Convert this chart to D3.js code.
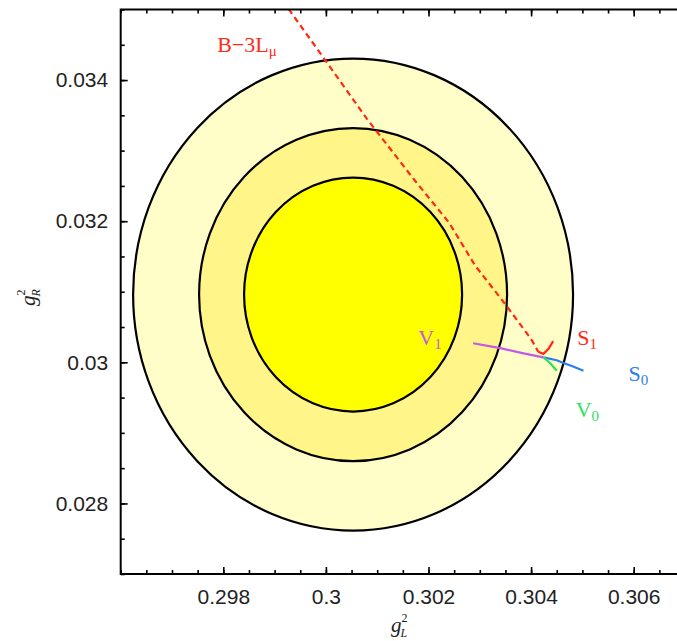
<!DOCTYPE html>
<html>
<head>
<meta charset="utf-8">
<script src="https://cdn.jsdelivr.net/npm/d3@7"></script>
<style>
  body { margin: 0; background: #fff; }
  .tick-label { font-family: "Liberation Sans", Arial, sans-serif; font-size: 21px; fill: #222; }
  .curve-label { font-family: "Liberation Serif", "Times New Roman", serif; font-size: 22px; }
</style>
</head>
<body>
<div id="chart"></div>
<script>
// axis ranges and tick labels
let xDomain = [0.296, 0.308]
let yDomain = [0.027, 0.035]
let xTickLabels = [0.298, 0.3, 0.302, 0.304, 0.306]
let yTickLabels = [0.028, 0.03, 0.032, 0.034]

// centre of the fit and the semi axes of the three contours (outer to inner)
let fitCentre = [0.30053, 0.03096]
let contourRx = [0.004288, 0.003002, 0.002125]
let contourRy = [0.003345, 0.00236, 0.001658]
let contourFill = ["#fffdc8", "#fff588", "#ffff00"]

// model curves, [gL2, gR2] pairs
let curveB3L = [[0.29905, 0.03524], [0.29929, 0.03499], [0.29992, 0.03435], [0.30080, 0.03345],
    [0.30173, 0.03258], [0.30240, 0.03198], [0.30291, 0.03137], [0.30350, 0.03082],
    [0.30400, 0.03033], [0.30414, 0.03015]]
let curveS1 = [[0.30414, 0.03015], [0.30424, 0.03012], [0.30434, 0.03019], [0.30443, 0.03030]]
let curveV1 = [[0.30287, 0.03027], [0.30340, 0.03020], [0.30390, 0.03012], [0.30424, 0.03007]]
let curveS0 = [[0.30424, 0.03007], [0.30450, 0.03003], [0.30463, 0.02999], [0.30482, 0.02994], [0.30502, 0.02988]]
let curveV0 = [[0.30424, 0.03007], [0.30437, 0.02999], [0.30450, 0.02988]]

// set the dimensions of the svg and the plot frame
let width = 677, height = 641
let plot = {left: 120.7, top: 9.5, bottom: 574, right: 736.3}

let svg = d3.select("#chart")
    .append("svg")
    .attr("width", width)
    .attr("height", height)

// scales
let x = d3.scaleLinear().domain(xDomain).range([plot.left, plot.right])
let y = d3.scaleLinear().domain(yDomain).range([plot.bottom, plot.top])

// clip everything to the plot frame
svg.append("clipPath")
    .attr("id", "plot-clip")
    .append("rect")
    .attr("x", plot.left)
    .attr("y", plot.top)
    .attr("width", plot.right - plot.left)
    .attr("height", plot.bottom - plot.top)

let inner = svg.append("g").attr("clip-path", "url(#plot-clip)")

// draw the contours, outer one first
inner.selectAll(".contour")
    .data(contourRx)
    .enter()
    .append("ellipse")
    .classed("contour", true)
    .attr("cx", x(fitCentre[0]))
    .attr("cy", y(fitCentre[1]))
    .attr("rx", function(d) {return x(fitCentre[0] + d) - x(fitCentre[0])})
    .attr("ry", function(d, i) {return y(fitCentre[1]) - y(fitCentre[1] + contourRy[i])})
    .style("fill", function(d, i) {return contourFill[i]})
    .style("stroke", "#000")
    .style("stroke-width", 2.2)

let line = d3.line()
    .x(function(d) {return x(d[0])})
    .y(function(d) {return y(d[1])})

// the B-3L line is dashed, the rest are solid
inner.append("path")
    .attr("d", line(curveB3L))
    .style("fill", "none")
    .style("stroke", "#ff2a14")
    .style("stroke-width", 2.2)
    .style("stroke-dasharray", "6,4")

let solidCurves = [[curveV1, "#c458e8"], [curveS0, "#2d7ef0"], [curveV0, "#2ee060"], [curveS1, "#ff2a14"]]
solidCurves.forEach(function(c) {
    inner.append("path")
        .attr("d", line(c[0]))
        .style("fill", "none")
        .style("stroke", c[1])
        .style("stroke-width", 2.2)
})

// ticks: minor every 0.0005, major at the labelled values
let xMinor = d3.range(0, 25).map(function(i) {return +(xDomain[0] + i * 0.0005).toFixed(4)})
let yMinor = d3.range(0, 17).map(function(i) {return +(yDomain[0] + i * 0.0005).toFixed(4)})

function addAxis(axisFn, scale, pos, minor, major, labels) {
    let g = svg.append("g").attr("transform", pos)
    g.append("g").call(axisFn(scale).tickValues(minor).tickSize(-4).tickFormat(""))
    let m = g.append("g").call(axisFn(scale).tickValues(major).tickSize(-7).tickPadding(labels ? 15 : 0)
        .tickFormat(labels ? function(d) {return d3.format("")(d)} : ""))
    g.selectAll("path.domain").remove()
    g.selectAll("line").style("stroke", "#000").style("stroke-width", 1.6)
    m.selectAll("text").attr("class", "tick-label").attr("font-size", null).attr("font-family", null)
    return m
}

addAxis(d3.axisBottom, x, "translate(0," + plot.bottom + ")", xMinor, xTickLabels, true)
addAxis(d3.axisTop, x, "translate(0," + plot.top + ")", xMinor, xTickLabels, false)
let yAx = addAxis(d3.axisLeft, y, "translate(" + plot.left + ",0)", yMinor, yTickLabels, true)
yAx.selectAll("text").attr("x", -12.5)

// plot frame (right edge falls outside the picture)
svg.append("rect")
    .attr("x", plot.left)
    .attr("y", plot.top)
    .attr("width", plot.right - plot.left)
    .attr("height", plot.bottom - plot.top)
    .style("fill", "none")
    .style("stroke", "#000")
    .style("stroke-width", 2)

// curve labels
let labels = [
    {t: "B\u22123L", s: "\u03bc", gx: 0.29788, gy: 0.03440, c: "#ff2a14"},
    {t: "V", s: "1", gx: 0.30180, gy: 0.03024, c: "#c458e8"},
    {t: "S", s: "1", gx: 0.30490, gy: 0.03024, c: "#ff2a14"},
    {t: "S", s: "0", gx: 0.30590, gy: 0.02973, c: "#2d7ef0"},
    {t: "V", s: "0", gx: 0.30487, gy: 0.02923, c: "#2ee060"}
]
labels.forEach(function(l) {
    let t = svg.append("text")
        .attr("class", "curve-label")
        .attr("x", x(l.gx))
        .attr("y", y(l.gy))
        .style("fill", l.c)
    t.append("tspan").text(l.t)
    t.append("tspan").attr("dy", 4).style("font-size", "15px").text(l.s)
})

// axis titles g_L^2 and g_R^2
function axisTitle(g, sub) {
    let t = g.append("text")
        .style("font-family", "'Liberation Serif', 'Times New Roman', serif")
        .style("font-size", "21px")
        .style("fill", "#222")
    t.append("tspan").style("font-style", "italic").text("g")
    t.append("tspan").attr("dy", -10).style("font-size", "12px").text("2")
    t.append("tspan").attr("dx", -7).attr("dy", 15).style("font-size", "12px").style("font-style", "italic").text(sub)
}
axisTitle(svg.append("g").attr("transform", "translate(391,632)"), "L")
axisTitle(svg.append("g").attr("transform", "translate(35,306) rotate(-90)"), "R")
</script>
</body>
</html>
